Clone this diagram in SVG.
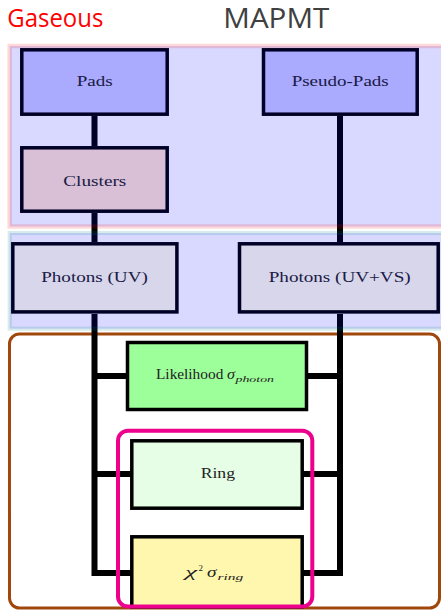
<svg xmlns="http://www.w3.org/2000/svg" width="441" height="610" viewBox="0 0 441 610">
<style>
.box{stroke:#000;stroke-width:3.5}
.lbl{font-family:"Liberation Serif","DejaVu Serif",serif;font-size:14px;fill:#222}
.it{font-family:"Liberation Serif","DejaVu Serif",serif;font-style:italic;fill:#222}
.wire{fill:none;stroke:#000;stroke-width:6;stroke-linejoin:miter}
.title{font-family:"Open Sans","Noto Sans",sans-serif}
</style>
<rect id="region-bottom" x="9.5" y="334" width="430" height="274" rx="10" fill="#fff" stroke="#a0480c" stroke-width="3"/>
<g id="connectors">
<path class="wire" d="M94.5 116V146M94.5 213V242M340 116V242"/>
<path class="wire" d="M94.5 314V573H131M94.5 376H127M94.5 474H131"/>
<path class="wire" d="M340 314V573H303M307 376H340M303 474H340"/>
</g>
<g id="pads"><rect class="box" x="21.8" y="49.8" width="145.4" height="64.4" fill="#c8c8ff"/><text class="lbl" x="76.7" y="86" textLength="36" lengthAdjust="spacingAndGlyphs">Pads</text></g>
<g id="pseudo-pads"><rect class="box" x="263.5" y="49.8" width="153.7" height="64.4" fill="#c8c8ff"/><text class="lbl" x="291.7" y="86" textLength="97" lengthAdjust="spacingAndGlyphs">Pseudo-Pads</text></g>
<g id="clusters"><rect class="box" x="21.8" y="147.8" width="145.4" height="63.4" fill="#ffe2cf"/><text class="lbl" x="63.3" y="185.5" textLength="63" lengthAdjust="spacingAndGlyphs">Clusters</text></g>
<g id="photons-uv"><rect class="box" x="12.8" y="243.8" width="164.1" height="68.1" fill="#fefce8"/><text class="lbl" x="41.2" y="281.8" textLength="106.6" lengthAdjust="spacingAndGlyphs">Photons (UV)</text></g>
<g id="photons-uvvs"><rect class="box" x="239.5" y="243.8" width="198.7" height="68.1" fill="#fefce8"/><text class="lbl" x="268.7" y="281.8" textLength="142" lengthAdjust="spacingAndGlyphs">Photons (UV+VS)</text></g>
<g id="likelihood"><rect class="box" x="127.5" y="342.5" width="179" height="67" fill="#9dff99"/><text class="lbl" x="156" y="379" textLength="67.3" lengthAdjust="spacingAndGlyphs">Likelihood</text><text class="it" x="227" y="379" font-size="14" textLength="8" lengthAdjust="spacingAndGlyphs">σ</text><text class="it" x="235.5" y="382" font-size="9" textLength="38.5" lengthAdjust="spacingAndGlyphs">photon</text></g>
<g id="ring"><rect class="box" x="131.8" y="440.8" width="170.4" height="67.4" fill="#e6fde6"/><text class="lbl" x="200.7" y="478" textLength="34.3" lengthAdjust="spacingAndGlyphs">Ring</text></g>
<g id="chi2"><rect class="box" x="131.8" y="536.8" width="170.4" height="70" fill="#fff7ad"/><text class="it" x="185" y="577" font-size="14" textLength="12" lengthAdjust="spacingAndGlyphs">χ</text><text class="lbl" x="198.5" y="571" style="font-size:9px">2</text><text class="it" x="207" y="577" font-size="14" textLength="9.5" lengthAdjust="spacingAndGlyphs">σ</text><text class="it" x="217.5" y="579.5" font-size="9" textLength="25.8" lengthAdjust="spacingAndGlyphs">ring</text></g>
<rect id="region-gaseous" x="9.7" y="46" width="440" height="180.5" fill="#0000ff" fill-opacity="0.15" stroke="#ff0000" stroke-opacity="0.15" stroke-width="4.5"/>
<rect id="region-photons" x="9.7" y="233" width="440" height="95.7" fill="#0000ff" fill-opacity="0.15" stroke="#008080" stroke-opacity="0.15" stroke-width="4.2"/>
<rect id="ring-group" x="118" y="430.7" width="194.3" height="175.8" rx="10" fill="none" stroke="#ec008c" stroke-width="4"/>
<text class="title" x="7.3" y="26.7" font-size="25" fill="#ff0000" textLength="96" lengthAdjust="spacingAndGlyphs">Gaseous</text>
<text class="title" x="223.3" y="28" font-size="27" fill="#404040" textLength="106" lengthAdjust="spacingAndGlyphs">MAPMT</text>
</svg>
